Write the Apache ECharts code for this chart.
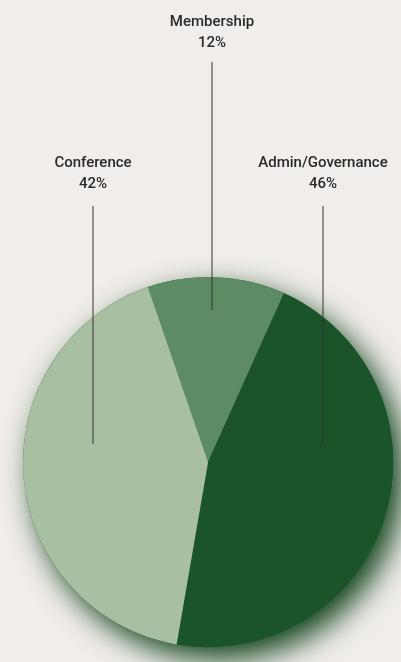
<!DOCTYPE html>
<html>
<head>
<meta charset="utf-8">
<script src="https://cdn.jsdelivr.net/npm/echarts@6/dist/echarts.min.js"></script>
<style>
html,body{margin:0;padding:0;background:#f1edea;}
#chart{width:401px;height:662px;}
</style>
</head>
<body>
<div id="chart"></div>
<script>
// ---- data ----
const categories = ['Membership', 'Admin/Governance', 'Conference'];
const shares = [12, 46, 42];

// ---- style / layout (not data) ----
const sliceColors = ['#5d8c64', '#1b5428', '#a9bfa2'];
// label anchor (px in a 401x662 frame): text centre x, text top y, leader line top & bottom y
const labelSpots = [
  { x: 212, textTop: 12, lineTop: 62, lineBottom: 310 },
  { x: 323, textTop: 153, lineTop: 206, lineBottom: 444 },
  { x: 93,  textTop: 153, lineTop: 206, lineBottom: 444 }
];

const chart = echarts.init(document.getElementById('chart'), null, { renderer: 'canvas' });
const total = shares.reduce((a, b) => a + b, 0);
const W = 401, H = 662;
const CENTER = ['51.9%', '69.8%'];
const RADIUS = '92.3%';

function pieData(colorFn) {
  return categories.map((name, i) => ({
    name,
    value: shares[i],
    itemStyle: { color: colorFn(i) }
  }));
}

const option = {
  backgroundColor: '#f1edea',
  animation: false,
  series: [
    {
      // shadow disc underneath the pie
      type: 'pie',
      silent: true,
      center: CENTER,
      radius: RADIUS,
      z: 1,
      label: { show: false },
      labelLine: { show: false },
      data: [{ value: total, name: 'shadow' }],
      itemStyle: {
        color: '#1b5428',
        shadowColor: 'rgba(16,66,28,1)',
        shadowBlur: 30,
        shadowOffsetX: 10,
        shadowOffsetY: 12
      }
    },
    {
      // the slices
      type: 'pie',
      silent: true,
      center: CENTER,
      radius: RADIUS,
      startAngle: 109,
      clockwise: true,
      z: 2,
      label: { show: false },
      labelLine: { show: false },
      data: pieData(i => sliceColors[i])
    },
    {
      // labels and leader lines drawn on top of the slices
      type: 'pie',
      silent: true,
      center: CENTER,
      radius: RADIUS,
      startAngle: 109,
      clockwise: true,
      z: 3,
      avoidLabelOverlap: false,
      data: pieData(() => 'rgba(0,0,0,0)'),
      label: {
        show: true,
        position: 'outside',
        formatter: '{b}\n{c}%',
        fontFamily: 'Roboto, "Liberation Sans", Arial, sans-serif',
        fontWeight: 500,
        fontSize: 15,
        lineHeight: 21,
        color: '#2a2a2a',
        align: 'center'
      },
      labelLine: {
        show: true,
        lineStyle: { color: '#333333', width: 1 }
      },
      labelLayout: function (params) {
        const s = labelSpots[params.dataIndex];
        const sx = chart.getWidth() / W, sy = chart.getHeight() / H;
        const x = s.x * sx;
        return {
          x: x,
          y: s.textTop * sy,
          align: 'center',
          verticalAlign: 'top',
          labelLinePoints: [
            [x, s.lineTop * sy],
            [x, (s.lineTop + 1) * sy],
            [x, s.lineBottom * sy]
          ]
        };
      }
    }
  ]
};
chart.setOption(option);
</script>
</body>
</html>
